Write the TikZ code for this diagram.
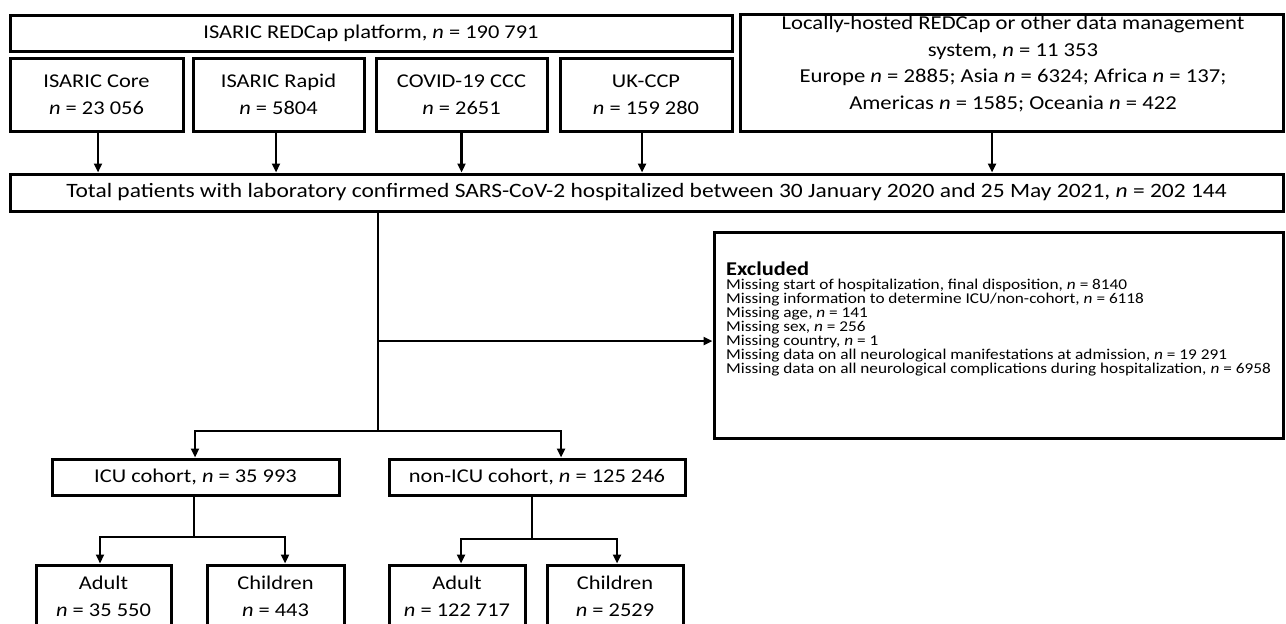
\documentclass[tikz,border=0pt]{standalone}
\usepackage{fontspec}
\setmainfont{Carlito}[FakeStretch=1.15]
\usetikzlibrary{arrows.meta}
\begin{document}
\begin{tikzpicture}[x=1pt,y=-1pt,
  box/.style={draw=black, line width=3pt, inner sep=0pt, align=center, font=\fontsize{19.5}{27}\selectfont},
  txt/.style={inner sep=0pt, align=center, font=\fontsize{19.7}{26.5}\selectfont},
  exl/.style={inner sep=0pt, font=\fontsize{15}{14}\selectfont},
  exh/.style={inner sep=0pt, font=\fontsize{19.5}{20}\selectfont\bfseries},
  conn/.style={line width=2.4pt},
  arr/.style={line width=2.4pt, -{Triangle[length=9pt,width=8pt]}}]
\useasboundingbox (0,0) rectangle (1286,624);
% top row
\node[box, minimum width=722, minimum height=36] (plat) at (371,33) {ISARIC REDCap platform, \textit{n} = 190~791};
\node[box, minimum width=173, minimum height=73] (core) at (96.5,94.5) {ISARIC Core\\\textit{n} = 23~056};
\node[box, minimum width=171, minimum height=73] (rapid) at (278.5,94.5) {ISARIC Rapid\\\textit{n} = 5804};
\node[box, minimum width=171, minimum height=73] (ccc) at (461.5,94.5) {COVID-19 CCC\\\textit{n} = 2651};
\node[box, minimum width=172, minimum height=73] (ukccp) at (646,94.5) {UK-CCP\\\textit{n} = 159~280};
\node[box, minimum width=543, minimum height=117] (local) at (1011.5,72.5) {};
\node[txt, anchor=north] (localtxt) at (1013,16) {Locally-hosted REDCap or other data management\\system, \textit{n} = 11~353\\Europe \textit{n} = 2885; Asia \textit{n} = 6324; Africa \textit{n} = 137;\\Americas \textit{n} = 1585; Oceania \textit{n} = 422};
% total
\node[box, minimum width=1273, minimum height=37, font=\fontsize{20.4}{27}\selectfont] (total) at (646.5,192.5) {Total patients with laboratory confirmed SARS-CoV-2 hospitalized between 30 January 2020 and 25 May 2021, \textit{n} = 202~144};
% excluded
\node[box, minimum width=569, minimum height=206] (excl) at (998.5,335) {};
\node[exh, anchor=base west] (exhead) at (726,275) {Excluded};
\foreach \t [count=\i from 0] in {%
  {Missing start of hospitalization, final disposition, \textit{n} = 8140},
  {Missing information to determine ICU/non-cohort, \textit{n} = 6118},
  {Missing age, \textit{n} = 141},
  {Missing sex, \textit{n} = 256},
  {Missing country, \textit{n} = 1},
  {Missing data on all neurological manifestations at admission, \textit{n} = 19~291},
  {Missing data on all neurological complications during hospitalization, \textit{n} = 6958}}
  \node[exl, anchor=base west] (ex\i) at (726,{289+14*\i}) {\t};
% cohorts
\node[box, minimum width=287, minimum height=36] (icu) at (195.5,477) {ICU cohort, \textit{n} = 35~993};
\node[box, minimum width=296, minimum height=36] (nonicu) at (537,477) {non-ICU cohort, \textit{n} = 125~246};
\node[box, minimum width=135, minimum height=62] (adult1) at (103.5,596) {Adult\\\textit{n} = 35~550};
\node[box, minimum width=137, minimum height=62] (child1) at (275.5,596) {Children\\\textit{n} = 443};
\node[box, minimum width=136, minimum height=62] (adult2) at (457,596) {Adult\\\textit{n} = 122~717};
\node[box, minimum width=136, minimum height=62] (child2) at (615,596) {Children\\\textit{n} = 2529};
% arrows from sources
\draw[arr] ([xshift=1.5pt]core.south) -- ([xshift=1.5pt]core.south |- total.north);
\draw[arr] ([xshift=-2.5pt]rapid.south) -- ([xshift=-2.5pt]rapid.south |- total.north);
\draw[arr] (ccc.south) -- (ccc.south |- total.north);
\draw[arr] ([xshift=-4pt]ukccp.south) -- ([xshift=-4pt]ukccp.south |- total.north);
\draw[arr] ([xshift=-19.5pt]local.south) -- ([xshift=-19.5pt]local.south |- total.north);
% main trunk
\coordinate (jex) at (378,341);
\coordinate (jsplit) at (378,431);
\coordinate (jl) at (195,431);
\coordinate (jr) at (561,431);
\draw[conn] (total.south -| jsplit) -- (jsplit);
\draw[arr] (jex) -- (jex -| excl.west);
\draw[arr] (jsplit) -- (jl) -- (jl |- icu.north);
\draw[arr] (jsplit) -- (jr) -- (jr |- nonicu.north);
% ICU split
\coordinate (ia) at (194,537);
\coordinate (ial) at (100,537);
\coordinate (iar) at (285,537);
\draw[conn] (icu.south -| ia) -- (ia);
\draw[arr] (ia) -- (ial) -- (ial |- adult1.north);
\draw[arr] (ia) -- (iar) -- (iar |- child1.north);
% non-ICU split
\coordinate (na) at (532,539);
\coordinate (nal) at (461,539);
\coordinate (nar) at (617,539);
\draw[conn] (nonicu.south -| na) -- (na);
\draw[arr] (na) -- (nal) -- (nal |- adult2.north);
\draw[arr] (na) -- (nar) -- (nar |- child2.north);
\end{tikzpicture}
\end{document}
